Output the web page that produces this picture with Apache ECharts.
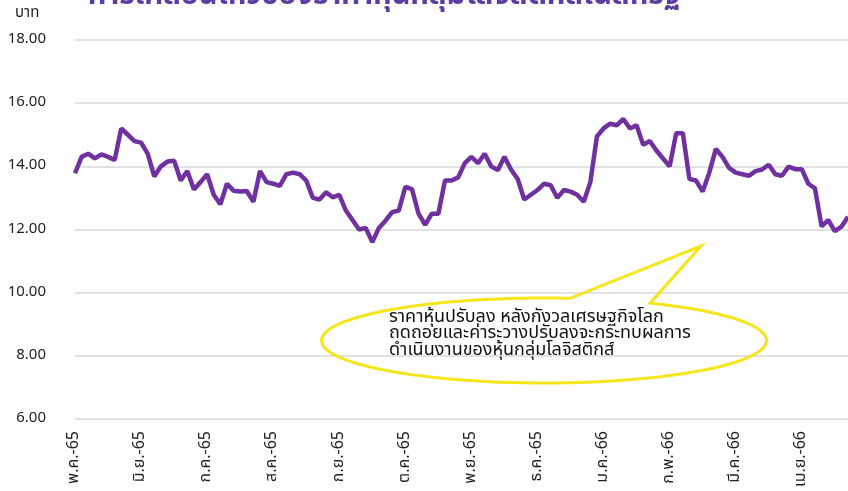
<!DOCTYPE html>
<html>
<head>
<meta charset="utf-8">
<script src="https://cdn.jsdelivr.net/npm/echarts@6/dist/echarts.min.js"></script>
<style>
  html, body { margin: 0; padding: 0; background: #fff; }
  #chart { width: 848px; height: 491px; }
</style>
</head>
<body>
<div id="chart"></div>
<script>
// เดือนบนแกน x (ป้ายละหนึ่งเดือน ทุก 10 จุด)
const months = ['พ.ค.-65', 'มิ.ย.-65', 'ก.ค.-65', 'ส.ค.-65', 'ก.ย.-65', 'ต.ค.-65',
  'พ.ย.-65', 'ธ.ค.-65', 'ม.ค.-66', 'ก.พ.-66', 'มี.ค.-66', 'เม.ย.-66']
const pointsPerMonth = 10

// ราคา (บาท) อ่านจากภาพ
const prices = [
  13.78, 14.3, 14.4, 14.25, 14.38, 14.3, 14.2, 15.2, 15.0, 14.8,
  14.75, 14.4, 13.68, 14.0, 14.15, 14.18, 13.55, 13.85, 13.27, 13.5,
  13.75, 13.1, 12.8, 13.45, 13.23, 13.2, 13.22, 12.88, 13.85, 13.5,
  13.45, 13.38, 13.75, 13.8, 13.75, 13.55, 13.0, 12.95, 13.18, 13.02,
  13.1, 12.6, 12.3, 12.0, 12.05, 11.6, 12.05, 12.28, 12.55, 12.6,
  13.35, 13.28, 12.5, 12.15, 12.5, 12.5, 13.55, 13.55, 13.65, 14.1,
  14.3, 14.1, 14.4, 14.0, 13.88, 14.3, 13.9, 13.6, 12.95, 13.1,
  13.25, 13.45, 13.4, 13.0, 13.25, 13.2, 13.1, 12.88, 13.5, 14.95,
  15.2, 15.35, 15.3, 15.5, 15.2, 15.3, 14.68, 14.8, 14.5, 14.25,
  14.0, 15.05, 15.05, 13.6, 13.55, 13.2, 13.8, 14.55, 14.3, 13.95,
  13.8, 13.75, 13.7, 13.85, 13.9, 14.05, 13.75, 13.7, 13.99, 13.91,
  13.91, 13.45, 13.3, 12.1, 12.3, 11.95, 12.09, 12.4
]

const titleText = 'การเคลื่อนไหวของราคาหุ้นกลุ่มโลจิสติกส์ในสหรัฐ'
const noteLines = [
  'ราคาหุ้นปรับลง หลังกังวลเศรษฐกิจโลก',
  'ถดถอยและค่าระวางปรับลงจะกระทบผลการ',
  'ดำเนินงานของหุ้นกลุ่มโลจิสติกส์'
]

const categories = prices.map((v, i) => (i % pointsPerMonth === 0 ? months[i / pointsPerMonth] : ''))

// กรอบคำอธิบายรูปวงรีพร้อมหาง
function bubblePoints() {
  const cx = 544, cy = 340.5, rx = 222.5, ry = 42.5
  const tip = [701, 246]
  const t1 = Math.acos((650 - cx) / rx)
  const t2 = Math.acos((570 - cx) / rx)
  const pts = []
  const end = t1 + Math.PI * 2
  for (let t = t2; t <= end; t += 0.03) {
    pts.push([cx + rx * Math.cos(t), cy - ry * Math.sin(t)])
  }
  pts.push([cx + rx * Math.cos(t1), cy - ry * Math.sin(t1)])
  pts.push(tip)
  return pts
}

const thaiFont = '"Noto Sans Thai", "Noto Sans", "DejaVu Sans", sans-serif'

let myChart = echarts.init(document.getElementById('chart'))
let option = {
  backgroundColor: '#fff',
  animation: false,
  title: {
    text: titleText,
    left: 83,
    top: -22,
    textStyle: {
      color: '#5a3ea3',
      fontSize: 29.5,
      fontWeight: 'bold',
      fontFamily: thaiFont
    }
  },
  grid: {
    left: 75,
    right: 0,
    top: 40,
    bottom: 72
  },
  xAxis: {
    type: 'category',
    boundaryGap: false,
    data: categories,
    axisLine: { show: false },
    axisTick: { show: false },
    axisLabel: {
      interval: (idx) => idx % pointsPerMonth === 0,
      rotate: 90,
      margin: 12,
      color: '#222',
      fontSize: 16,
      fontFamily: thaiFont
    }
  },
  yAxis: {
    type: 'value',
    min: 6,
    max: 18,
    interval: 2,
    axisLine: { show: false },
    axisTick: { show: false },
    axisLabel: {
      margin: 29,
      color: '#222',
      fontSize: 15,
      fontFamily: thaiFont,
      formatter: (v) => v.toFixed(2)
    },
    splitLine: {
      lineStyle: { color: '#d9d9d9', width: 1.5 }
    }
  },
  graphic: [
    {
      type: 'text',
      left: 15,
      top: 6,
      style: {
        text: 'บาท',
        fill: '#222',
        fontSize: 15,
        fontFamily: thaiFont
      }
    },
    {
      type: 'polygon',
      z: 100,
      shape: { points: bubblePoints() },
      style: {
        fill: 'none',
        stroke: '#f5e61c',
        lineWidth: 3
      }
    },
    {
      type: 'text',
      z: 101,
      left: 389,
      top: 309,
      style: {
        text: noteLines.join('\n'),
        fill: '#111',
        fontSize: 18,
        lineHeight: 16.5,
        fontFamily: thaiFont
      }
    }
  ],
  series: [
    {
      name: 'ราคา',
      type: 'line',
      data: prices,
      showSymbol: false,
      lineStyle: { color: '#7030a0', width: 4.5 },
      itemStyle: { color: '#7030a0' }
    }
  ]
}
myChart.setOption(option)
</script>
</body>
</html>
